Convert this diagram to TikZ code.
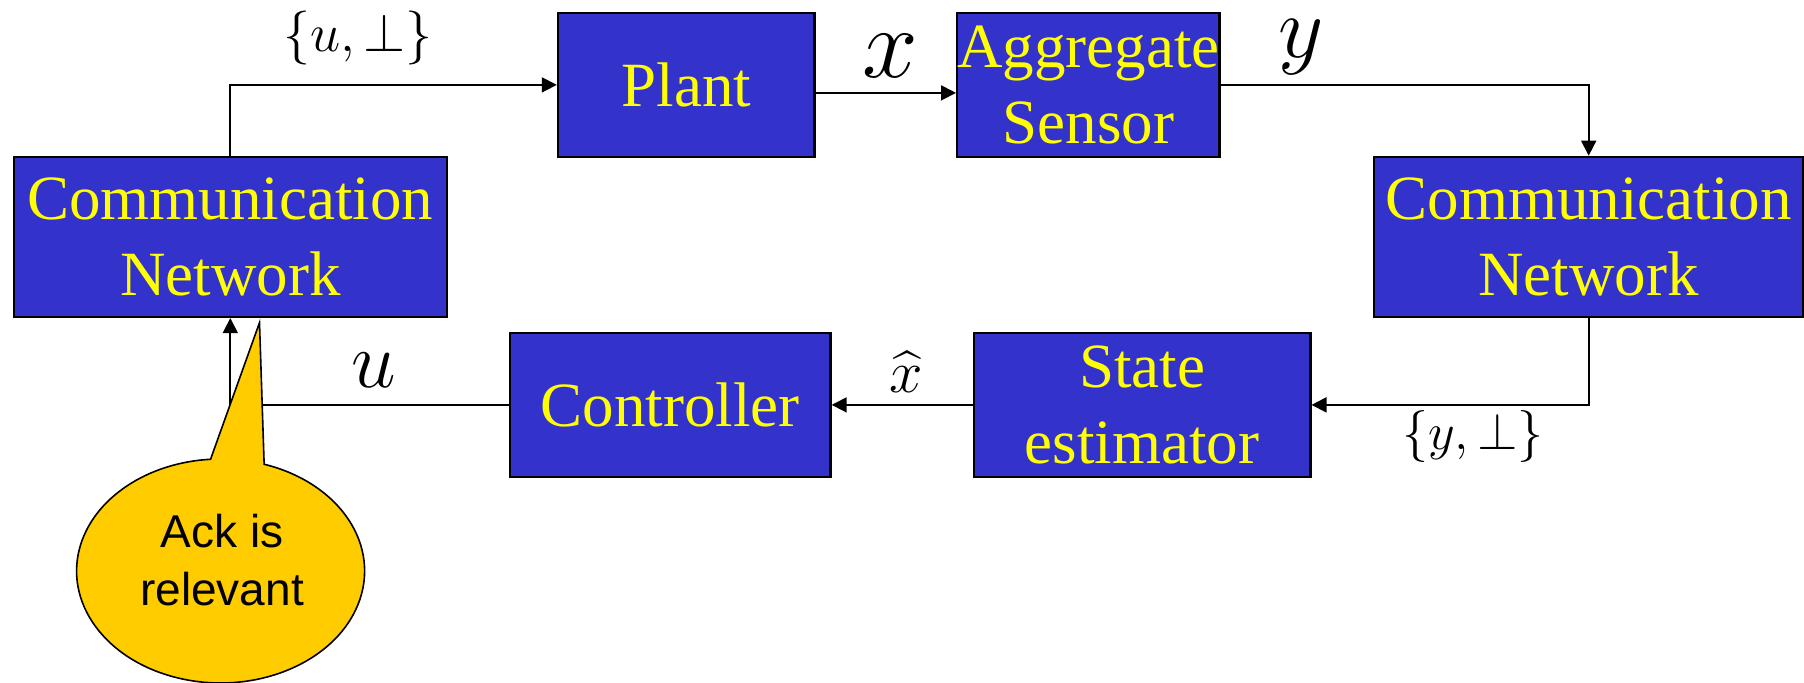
\RequirePackage{fix-cm}
\documentclass[tikz,border=0pt]{standalone}
\usepackage{fontspec}
\usepackage{amsmath}
\setmainfont{Liberation Serif}
\newfontfamily\arialfont{Liberation Sans}
\usetikzlibrary{arrows.meta,calc}
\definecolor{boxblue}{HTML}{3333CC}
\definecolor{boxyellow}{HTML}{FFFF00}
\definecolor{bubble}{HTML}{FFCC00}
\tikzset{
  blockbox/.style={draw=black, line width=1.2pt, fill=boxblue, text=boxyellow,
    font=\fontsize{31.5}{38}\selectfont, align=center, inner sep=0pt, anchor=north west},
  conn/.style={draw=black, line width=0.9pt},
  arr/.style={conn, -{Triangle[length=7.5pt,width=7.5pt]}},
  mathlbl/.style={inner sep=0pt, text=black}
}
\begin{document}
\begin{tikzpicture}[x=0.5pt,y=-0.5pt]
\useasboundingbox (0,0) rectangle (1804,683);
% blocks
\node[blockbox, minimum width=216.5pt, minimum height=80pt] (commL) at (12.6,155.7) {Communication\\Network};
\node[blockbox, minimum width=128.3pt, minimum height=72pt] (plant) at (556.8,11.7) {Plant};
\node[blockbox, minimum width=128.3pt, minimum height=72pt] (agg) at (956,11.7) {Aggregate\\Sensor};
\node[blockbox, minimum width=214.5pt, minimum height=80pt] (commR) at (1373,155.7) {Communication\\Network};
\node[blockbox, minimum width=168.3pt, minimum height=72pt] (state) at (972.5,331.7) {State\\estimator};
\node[blockbox, minimum width=160.3pt, minimum height=72pt] (ctrl) at (508.7,331.7) {Controller};
% connectors
\draw[arr] (commL.north) |- (plant.west);
\draw[arr] ($(plant.east)+(0,8)$) -- ($(agg.west)+(0,8)$);
\draw[arr] (agg.east) -| (commR.north);
\draw[arr] (commR.south) |- (state.east);
\draw[arr] (state.west) -- (ctrl.east);
\draw[arr] (ctrl.west) -| (commL.south);
% labels
\node[mathlbl, font=\fontsize{27}{30}\selectfont] (lu) at (358,38) {$\{u,\bot\}$};
\node[mathlbl, font=\fontsize{50}{56}\selectfont] (lx) at (890,56) {$x$};
\node[mathlbl, font=\fontsize{44}{48}\selectfont] (ly) at (1301,47) {$y$};
\node[mathlbl, font=\fontsize{26}{30}\selectfont] (lyb) at (1473,437) {$\{y,\bot\}$};
\node[mathlbl, font=\fontsize{30}{34}\selectfont] (lxh) at (906,372) {$\widehat{x}$};
\node[mathlbl, font=\fontsize{40}{44}\selectfont] (lu2) at (374,370) {$u$};
% callout bubble
\coordinate (bc) at (220.6,571);
\coordinate (tip) at (259.5,322.7);
\draw[fill=bubble, draw=black, line width=0.8pt]
  ($(bc)+(-94:144 and 112)$) -- (tip) -- ($(bc)+(-72.4:144 and 112)$)
  arc[start angle=-72.4, end angle=266, x radius=144, y radius=112] -- cycle;
\node[font=\arialfont\fontsize{23}{29}\selectfont, align=center, text=black, inner sep=0pt] (ack) at (222,560) {Ack is\\relevant};
\end{tikzpicture}
\end{document}
